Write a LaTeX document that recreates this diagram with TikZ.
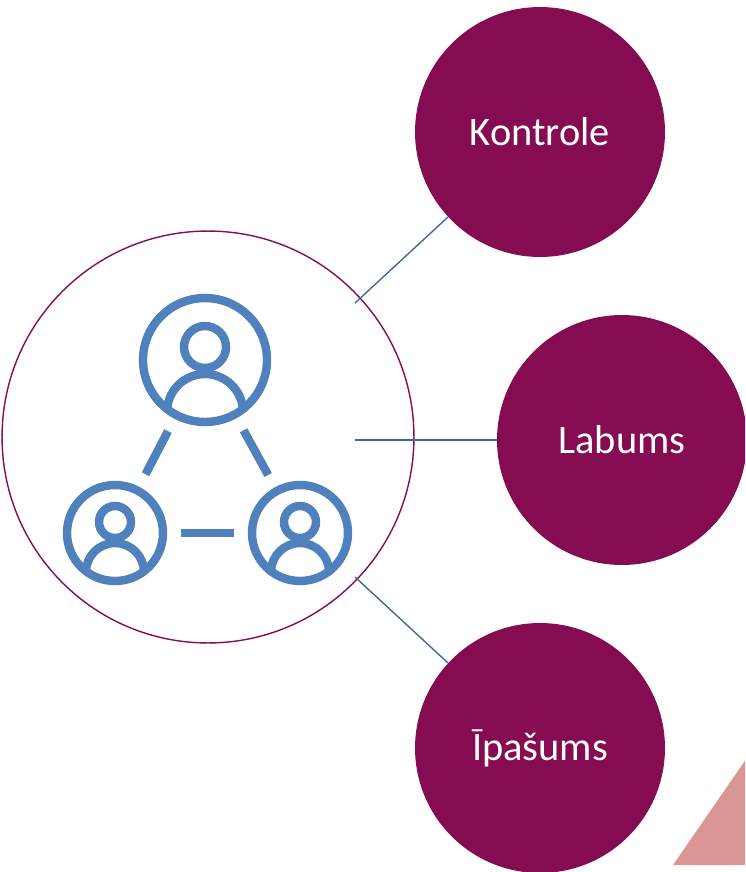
\documentclass[tikz,border=0pt]{standalone}
\usepackage{fontspec}
\setmainfont{Carlito}
\definecolor{plum}{RGB}{134,12,82}
\definecolor{iconblue}{RGB}{79,129,189}
\definecolor{linkblue}{RGB}{65,105,155}
\definecolor{tripink}{RGB}{217,150,148}

\begin{document}
\begin{tikzpicture}[x=0.02cm,y=-0.02cm,
    hub/.style={circle,draw=plum,line width=0.8pt,minimum size=8.24cm,inner sep=0pt},
    item/.style={circle,fill=plum,text=white,minimum size=5cm,inner sep=0pt,font=\fontsize{23}{27}\selectfont},
    ring/.style={circle,draw=iconblue,line width=4.8pt,inner sep=0pt},
    bar/.style={draw=iconblue,line width=4.8pt,shorten <=0.28cm,shorten >=0.28cm},
    link/.style={draw=linkblue,line width=0.8pt}]
      \clip (0,0) rectangle (745,872);
      \fill[tripink] (673,865) -- (762,736) -- (851,865) -- cycle;
      \node[hub] (hub) at (208,437) {};
      \node[item] (kontrole) at (540,132) {Kontrole};
      \node[item] (labums) at (622,440) {Labums};
      \node[item] (ipasums) at (540,748) {Īpašums};
      \coordinate (ka) at (355,303);
      \coordinate (la) at (355,440);
      \coordinate (ia) at (355,577);
      \draw [link] (ka) to (kontrole);
      \draw [link] (la) to (labums);
      \draw [link] (ia) to (ipasums);
      % people
      \node[ring,minimum size=2.48cm] (p1) at (205,360) {};
      \node[ring,minimum size=1.92cm] (p2) at (115,533) {};
      \node[ring,minimum size=1.92cm] (p3) at (300,533) {};
      \node[ring,minimum size=0.84cm] (h1) at (205,347) {};
      \node[ring,minimum size=0.64cm] (h2) at (115,522) {};
      \node[ring,minimum size=0.64cm] (h3) at (300,522) {};
      \begin{scope}
        \clip (p1.center) circle (1.24cm);
        \draw [iconblue,line width=4.8pt] (205,412) circle (0.76cm);
      \end{scope}
      \begin{scope}
        \clip (p2.center) circle (0.96cm);
        \draw [iconblue,line width=4.8pt] (115,572) circle (0.58cm);
      \end{scope}
      \begin{scope}
        \clip (p3.center) circle (0.96cm);
        \draw [iconblue,line width=4.8pt] (300,572) circle (0.58cm);
      \end{scope}
      \draw [bar] (p1) to (p2);
      \draw [bar] (p1) to (p3);
      \draw [bar] (p2) to (p3);
\end{tikzpicture}
\end{document}
